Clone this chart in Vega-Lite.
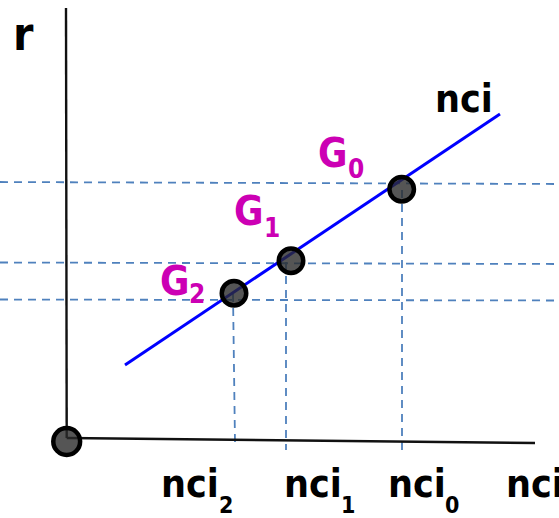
{
  "$schema": "https://vega.github.io/schema/vega-lite/v6.json",
  "width": 559,
  "height": 518,
  "padding": 0,
  "autosize": {"type": "none"},
  "background": "white",
  "config": {"view": {"stroke": null}},
  "datasets": {
    "guides": [
      {"x": 0, "y": 182, "x2": 559, "y2": 184},
      {"x": 0, "y": 262.5, "x2": 559, "y2": 264},
      {"x": 0, "y": 299.5, "x2": 559, "y2": 300.5},
      {"x": 233, "y": 294, "x2": 235, "y2": 443},
      {"x": 286, "y": 262, "x2": 286, "y2": 450},
      {"x": 402, "y": 190, "x2": 402, "y2": 450}
    ],
    "axes": [
      {"x": 66, "y": 8, "x2": 66.7, "y2": 438},
      {"x": 66.7, "y": 438, "x2": 535, "y2": 443}
    ],
    "curve": [
      {"x": 125, "y": 365, "x2": 500, "y2": 114}
    ],
    "states": [
      {"name": "G0", "x": 401.7, "y": 189.3},
      {"name": "G1", "x": 291, "y": 260.7},
      {"name": "G2", "x": 234, "y": 293.3}
    ],
    "origin": [
      {"x": 66.7, "y": 441.5}
    ],
    "labels": [
      {"text": "r", "x": 13, "y": 50, "kind": "title"},
      {"text": "nci", "x": 435, "y": 111.5, "kind": "axis"},
      {"text": "nci", "x": 161, "y": 497, "kind": "axis"},
      {"text": "nci", "x": 284, "y": 497, "kind": "axis"},
      {"text": "nci", "x": 388, "y": 497, "kind": "axis"},
      {"text": "nci", "x": 506, "y": 497, "kind": "axis"},
      {"text": "2", "x": 219, "y": 513, "kind": "axis-sub"},
      {"text": "1", "x": 341, "y": 513, "kind": "axis-sub"},
      {"text": "0", "x": 445, "y": 513, "kind": "axis-sub"},
      {"text": "G", "x": 318, "y": 166.5, "kind": "group"},
      {"text": "G", "x": 234, "y": 225, "kind": "group"},
      {"text": "G", "x": 160, "y": 295, "kind": "group"},
      {"text": "0", "x": 348, "y": 178, "kind": "group-sub"},
      {"text": "1", "x": 264, "y": 236.5, "kind": "group-sub"},
      {"text": "2", "x": 189, "y": 303, "kind": "group-sub"}
    ]
  },
  "encoding": {
    "x": {"field": "x", "type": "quantitative", "scale": {"domain": [0, 559], "nice": false, "zero": false}, "axis": null},
    "y": {"field": "y", "type": "quantitative", "scale": {"domain": [0, 518], "nice": false, "zero": false, "reverse": true}, "axis": null}
  },
  "layer": [
    {
      "data": {"name": "guides"},
      "mark": {"type": "rule", "color": "#4f81bd", "strokeWidth": 1.8, "strokeDash": [8, 6]},
      "encoding": {"x2": {"field": "x2"}, "y2": {"field": "y2"}}
    },
    {
      "data": {"name": "axes"},
      "mark": {"type": "rule", "color": "#111111", "strokeWidth": 2.4},
      "encoding": {"x2": {"field": "x2"}, "y2": {"field": "y2"}}
    },
    {
      "data": {"name": "curve"},
      "mark": {"type": "rule", "color": "#0000ff", "strokeWidth": 3},
      "encoding": {"x2": {"field": "x2"}, "y2": {"field": "y2"}}
    },
    {
      "data": {"name": "states"},
      "mark": {"type": "point", "shape": "circle", "filled": true, "fill": "#2a2a2a", "fillOpacity": 0.8, "stroke": "#000000", "strokeWidth": 4.5, "strokeOpacity": 1, "size": 600}
    },
    {
      "data": {"name": "origin"},
      "mark": {"type": "point", "shape": "circle", "filled": true, "fill": "#2a2a2a", "fillOpacity": 0.8, "stroke": "#000000", "strokeWidth": 4.5, "strokeOpacity": 1, "size": 720}
    },
    {
      "data": {"name": "labels"},
      "transform": [{"filter": "datum.kind === 'title'"}],
      "mark": {"type": "text", "align": "left", "baseline": "alphabetic", "font": "'DejaVu Sans Condensed', 'Liberation Sans', sans-serif", "fontWeight": "bold", "fontSize": 46, "color": "#000000"},
      "encoding": {"text": {"field": "text"}}
    },
    {
      "data": {"name": "labels"},
      "transform": [{"filter": "datum.kind === 'axis'"}],
      "mark": {"type": "text", "align": "left", "baseline": "alphabetic", "font": "'DejaVu Sans Condensed', 'Liberation Sans', sans-serif", "fontWeight": "bold", "fontSize": 39, "color": "#000000"},
      "encoding": {"text": {"field": "text"}}
    },
    {
      "data": {"name": "labels"},
      "transform": [{"filter": "datum.kind === 'axis-sub'"}],
      "mark": {"type": "text", "align": "left", "baseline": "alphabetic", "font": "'DejaVu Sans Condensed', 'Liberation Sans', sans-serif", "fontWeight": "bold", "fontSize": 23, "color": "#000000"},
      "encoding": {"text": {"field": "text"}}
    },
    {
      "data": {"name": "labels"},
      "transform": [{"filter": "datum.kind === 'group'"}],
      "mark": {"type": "text", "align": "left", "baseline": "alphabetic", "font": "'DejaVu Sans Condensed', 'Liberation Sans', sans-serif", "fontWeight": "bold", "fontSize": 40, "color": "#cc00b4"},
      "encoding": {"text": {"field": "text"}}
    },
    {
      "data": {"name": "labels"},
      "transform": [{"filter": "datum.kind === 'group-sub'"}],
      "mark": {"type": "text", "align": "left", "baseline": "alphabetic", "font": "'DejaVu Sans Condensed', 'Liberation Sans', sans-serif", "fontWeight": "bold", "fontSize": 26, "color": "#cc00b4"},
      "encoding": {"text": {"field": "text"}}
    }
  ]
}
